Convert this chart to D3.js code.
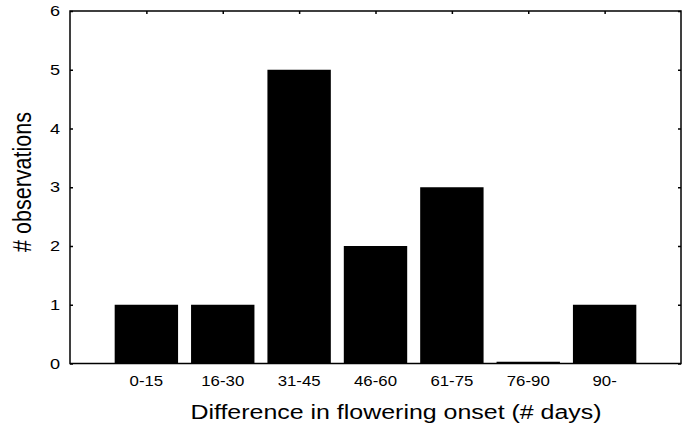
<!DOCTYPE html>
<html><head><meta charset="utf-8">
<script src="https://cdn.jsdelivr.net/npm/d3@7"></script>
<style>body{margin:0;background:#fff}svg{display:block}text{font-family:"Liberation Sans",Arial,sans-serif;fill:#000}</style>
</head><body>
<svg id="c" width="688" height="427"></svg>
<script>
const categories = ["0-15","16-30","31-45","46-60","61-75","76-90","90-"];
const counts = [1,1,5,2,3,0.03,1];
const yTicks = [0,1,2,3,4,5,6];

const svg = d3.select("#c");
const L=70, R=681, T=11, B=363.5;
const SX = 1.25; // horizontal stretch of the lettering
const x = d3.scaleLinear().domain([0,8]).range([L,R]);
const y = d3.scaleLinear().domain([0,6]).range([B,T]);
const bw = 0.83;

svg.append("g").selectAll("rect").data(counts).join("rect")
  .attr("x",(d,i)=>x(i+1-bw/2)).attr("width",(d,i)=>x(i+1+bw/2)-x(i+1-bw/2))
  .attr("y",d=>y(d)).attr("height",d=>y(0)-y(d)).attr("fill","#000");

svg.append("rect").attr("x",L).attr("y",T).attr("width",R-L).attr("height",B-T)
  .attr("fill","none").attr("stroke","#000").attr("stroke-width",1.5);

const yl = svg.append("g").attr("transform",`translate(${L},0)`)
  .call(d3.axisRight(y).tickValues(yTicks).tickSize(3).tickFormat(""));
yl.select(".domain").remove();
yl.selectAll("line").attr("stroke-width",1.5);
svg.append("g").selectAll("text").data(yTicks).join("text")
  .attr("transform",d=>`translate(${L-10},${y(d)}) scale(${SX},1)`)
  .attr("dy","0.36em").attr("text-anchor","end")
  .attr("font-size",14.5).text(d=>d);
const yr = svg.append("g").attr("transform",`translate(${R},0)`)
  .call(d3.axisLeft(y).tickValues(yTicks).tickSize(3).tickFormat(""));
yr.select(".domain").remove();
yr.selectAll("line").attr("stroke-width",1.5);

const xt = svg.append("g").attr("transform",`translate(0,${T})`)
  .call(d3.axisBottom(x).tickValues(d3.range(1,8)).tickSize(3).tickFormat(""));
xt.select(".domain").remove();
xt.selectAll("line").attr("stroke-width",1.5);
svg.append("g").selectAll("text").data(categories).join("text")
  .attr("transform",(d,i)=>`translate(${x(i+1)},386) scale(1.2,1)`)
  .attr("text-anchor","middle").attr("font-size",14).text(d=>d);

svg.append("text").attr("transform",`translate(396,419) scale(1.28,1)`)
  .attr("text-anchor","middle").attr("font-size",19.5)
  .text("Difference in flowering onset (# days)");
svg.append("text").attr("transform",`translate(31,182) scale(1.2,1) rotate(-90)`)
  .attr("text-anchor","middle").attr("font-size",21.5).text("# observations");
</script>
</body></html>
